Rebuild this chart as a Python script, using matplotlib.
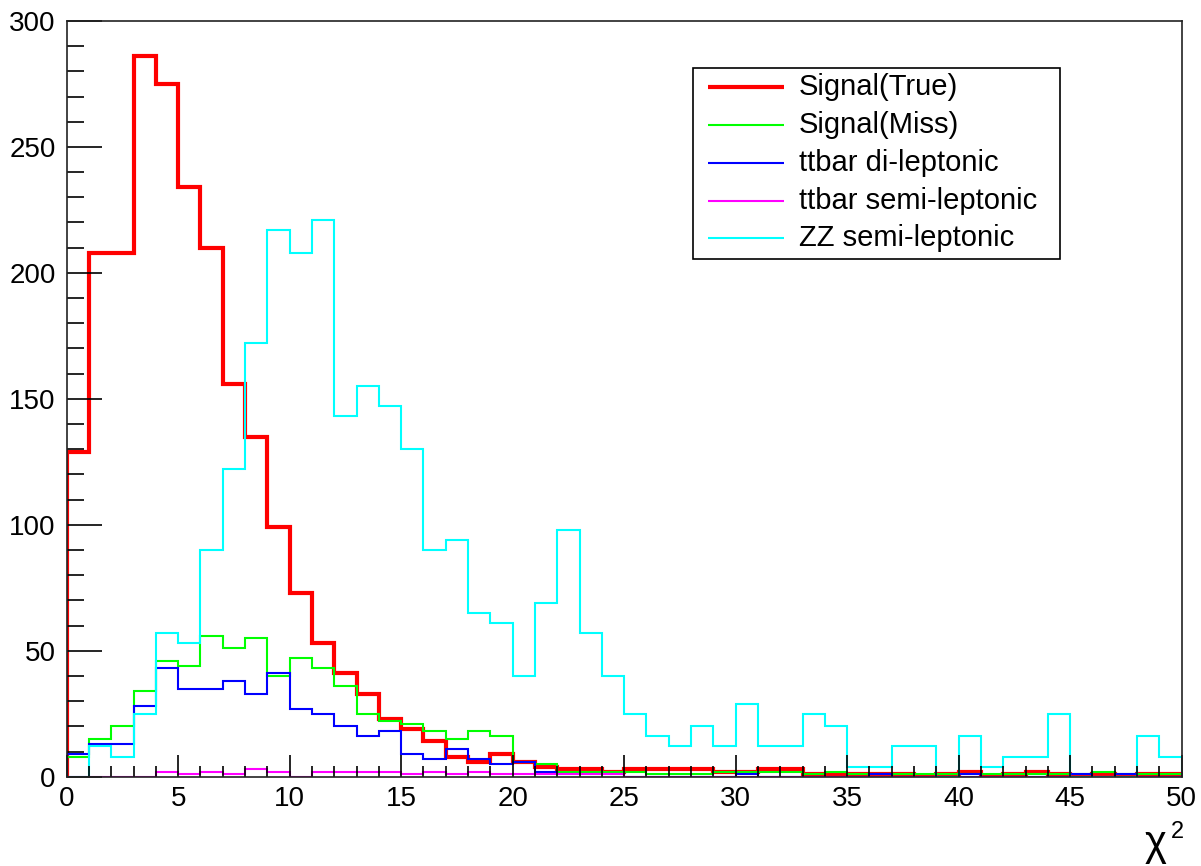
import numpy as np
import matplotlib
matplotlib.use("Agg")
import matplotlib.pyplot as plt
from matplotlib.ticker import MultipleLocator
from matplotlib.patches import Rectangle

plt.rcParams['font.family'] = ['Liberation Sans', 'DejaVu Sans']

bin_edges = np.arange(0, 51, 1)

signal_true = [129, 208, 208, 286, 275, 234, 210, 156, 135, 99,
               73, 53, 41, 33, 23, 19, 14, 8, 6, 9,
               6, 4, 3, 3, 2, 3, 3, 3, 3, 2,
               2, 3, 3, 1, 1, 1, 1, 1, 0, 1,
               2, 0, 1, 2, 1, 0, 1, 0, 1, 1]
signal_miss = [8, 15, 20, 34, 46, 44, 56, 51, 55, 40,
               47, 43, 36, 25, 22, 21, 18, 15, 18, 16,
               6, 5, 2, 2, 2, 2, 1, 1, 1, 2,
               2, 2, 2, 1, 2, 1, 1, 1, 1, 1,
               1, 1, 1, 1, 1, 1, 2, 1, 1, 1]
ttbar_di = [9, 13, 13, 28, 43, 35, 35, 38, 33, 41,
            27, 25, 20, 16, 18, 9, 7, 11, 7, 5,
            6, 2, 1, 1, 1, 0, 0, 0, 0, 0,
            1, 0, 0, 0, 0, 0, 1, 0, 0, 0,
            1, 0, 0, 0, 0, 1, 0, 1, 0, 0]
ttbar_semi = [0, 0, 0, 0, 2, 1, 2, 1, 3, 2,
              0, 2, 2, 2, 2, 1, 2, 1, 2, 1,
              1, 1, 1, 1, 1, 0, 0, 0, 0, 0,
              0, 0, 0, 0, 0, 0, 0, 0, 0, 0,
              0, 0, 0, 0, 0, 0, 0, 0, 0, 0]
zz_semi = [0, 12, 8, 25, 57, 53, 90, 122, 172, 217,
           208, 221, 143, 155, 147, 130, 90, 94, 65, 61,
           40, 69, 98, 57, 40, 25, 16, 12, 20, 12,
           29, 12, 12, 25, 20, 4, 4, 12, 12, 0,
           16, 4, 8, 8, 25, 0, 0, 0, 16, 8]

labels = ["Signal(True)", "Signal(Miss)", "ttbar di-leptonic",
          "ttbar semi-leptonic", "ZZ semi-leptonic"]
data = [signal_true, signal_miss, ttbar_di, ttbar_semi, zz_semi]
colors = ["#ff0000", "#00ff00", "#0000ff", "#ff00ff", "#00ffff"]
widths = [3.0, 1.5, 1.5, 1.5, 1.5]

fig = plt.figure(figsize=(12.01, 8.66), dpi=100)
ax = fig.add_axes([0.0555, 0.1031, 0.9284, 0.8727])

for vals, color, lw in zip(data, colors, widths):
    ax.stairs(vals, bin_edges, baseline=0, fill=False, color=color, linewidth=lw)

ax.set_xlim(0, 50)
ax.set_ylim(0, 300)
ax.xaxis.set_major_locator(MultipleLocator(5))
ax.xaxis.set_minor_locator(MultipleLocator(1))
ax.yaxis.set_major_locator(MultipleLocator(50))
ax.yaxis.set_minor_locator(MultipleLocator(10))
ax.tick_params(axis='both', which='both', direction='in', top=False, right=False,
               width=1.2, colors='black', labelsize=20)
ax.tick_params(axis='x', which='major', length=16, pad=7)
ax.tick_params(axis='x', which='minor', length=8)
ax.tick_params(axis='y', which='major', length=25, pad=8)
ax.tick_params(axis='y', which='minor', length=12.5)
for s in ax.spines.values():
    s.set_linewidth(1.2)
    s.set_color('#222222')

# legend box (ROOT TLegend style)
lx0, lx1, ly0, ly1 = 0.5614, 0.891, 0.6844, 0.9384
ax.add_patch(Rectangle((lx0, ly0), lx1 - lx0, ly1 - ly0, transform=ax.transAxes,
                       facecolor='white', edgecolor='black', linewidth=1.2, zorder=5))
row_y0, row_step = 0.9127, 0.0501
for i, (lab, color, lw) in enumerate(zip(labels, colors, widths)):
    yy = row_y0 - i * row_step
    ax.plot([0.5751, 0.6433], [yy, yy], transform=ax.transAxes, color=color,
            linewidth=lw, zorder=6, solid_capstyle='butt')
    ax.text(0.6569, yy, lab, transform=ax.transAxes, fontsize=21, va='center',
            ha='left', zorder=6)

fig.text(0.9625, 0.002, "χ", fontsize=30, ha='center', va='bottom')
fig.text(0.9805, 0.0266, "2", fontsize=17, ha='center', va='bottom')

fig.savefig("out.png", dpi=100)
